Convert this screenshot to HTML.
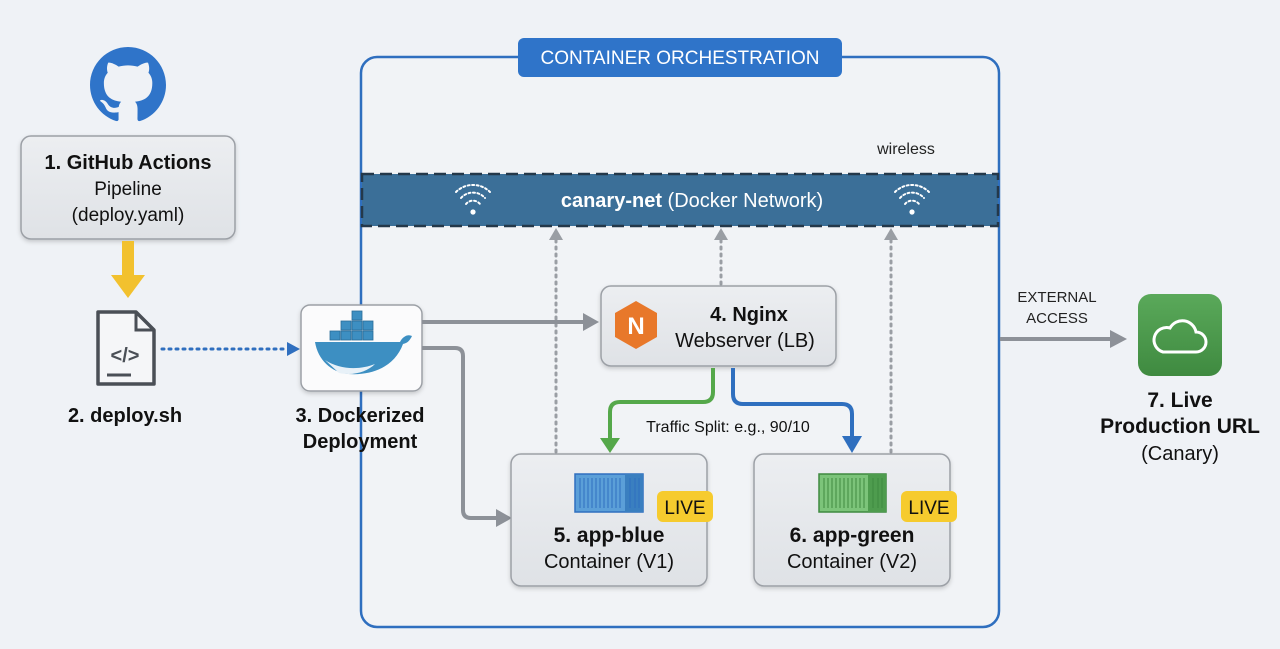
<!DOCTYPE html>
<html><head><meta charset="utf-8"><style>
html,body{margin:0;padding:0;background:#eff2f6;}
svg{display:block;font-family:"Liberation Sans",sans-serif;}
</style></head><body>
<svg width="1280" height="649" viewBox="0 0 1280 649" xmlns="http://www.w3.org/2000/svg">
<defs>
<linearGradient id="bx" x1="0" y1="0" x2="0" y2="1"><stop offset="0" stop-color="#eceef1"/><stop offset="1" stop-color="#dfe2e6"/></linearGradient>
<linearGradient id="gr" x1="0" y1="0" x2="0" y2="1"><stop offset="0" stop-color="#5aa95a"/><stop offset="1" stop-color="#3f8a40"/></linearGradient>
<filter id="sh" x="-10%" y="-10%" width="120%" height="130%"><feDropShadow dx="0" dy="2" stdDeviation="2" flood-color="#000" flood-opacity="0.18"/></filter>
</defs>
<rect width="1280" height="649" fill="#eff2f6"/>

<!-- orchestration -->
<rect x="361" y="57" width="638" height="570" rx="16" fill="#f1f3f6" stroke="#2f6fbf" stroke-width="2.5"/>
<rect x="518" y="38" width="324" height="39" rx="6" fill="#2f74c9"/>
<text x="680" y="64" font-size="19" fill="#fff" text-anchor="middle">CONTAINER ORCHESTRATION</text>
<text x="906" y="154" font-size="16" fill="#222" text-anchor="middle">wireless</text>

<!-- network band -->
<rect x="362" y="174" width="636" height="52" fill="#3b6f98" stroke="#24384a" stroke-width="2.5" stroke-dasharray="12,6"/>
<text x="692" y="207" font-size="20" fill="#fff" text-anchor="middle"><tspan font-weight="bold">canary-net</tspan> (Docker Network)</text>
<g fill="none" stroke="#fff" stroke-width="2" stroke-dasharray="2,2.5" stroke-linecap="round">
<path d="M456 192 a24 24 0 0 1 34 0"/><path d="M461 198 a16 16 0 0 1 24 0"/><path d="M466 204 a9 9 0 0 1 14 0"/>
<path d="M895 192 a24 24 0 0 1 34 0"/><path d="M900 198 a16 16 0 0 1 24 0"/><path d="M905 204 a9 9 0 0 1 14 0"/>
</g>
<circle cx="473" cy="212" r="2.6" fill="#fff"/><circle cx="912" cy="212" r="2.6" fill="#fff"/>

<!-- dotted vertical -->
<g stroke="#9a9ea4" stroke-width="3" stroke-dasharray="2,5" stroke-linecap="round">
<line x1="556" y1="240" x2="556" y2="452"/><line x1="721" y1="240" x2="721" y2="284"/><line x1="891" y1="240" x2="891" y2="452"/>
</g>
<g fill="#9a9ea4"><path d="M549 240 L556 228 L563 240Z"/><path d="M714 240 L721 228 L728 240Z"/><path d="M884 240 L891 228 L898 240Z"/></g>

<!-- github -->
<g transform="translate(90,47) scale(4.75)">
<path fill="#2f74c9" d="M8 0C3.58 0 0 3.58 0 8c0 3.54 2.29 6.53 5.47 7.59.4.07.55-.17.55-.38 0-.19-.01-.82-.01-1.49-2.01.37-2.530-.49-2.69-.94-.09-.23-.48-.94-.82-1.13-.28-.15-.68-.52-.01-.53.63-.01 1.08.58 1.23.82.72 1.21 1.87.87 2.33.66.07-.52.28-.87.51-1.07-1.78-.2-3.640-.89-3.640-3.95 0-.87.31-1.59.82-2.15-.08-.2-.36-1.020.08-2.12 0 0 .67-.21 2.2.82.64-.18 1.32-.27 2-.27.68 0 1.36.09 2 .27 1.53-1.04 2.2-.82 2.2-.82.44 1.1.16 1.92.08 2.12.51.56.82 1.27.82 2.15 0 3.07-1.87 3.75-3.65 3.95.29.25.54.73.54 1.48 0 1.07-.01 1.93-.01 2.2 0 .21.15.46.55.38A8.013 8.013 0 0016 8c0-4.42-3.58-8-8-8z"/>
</g>
<!-- box 1 -->
<rect x="21" y="136" width="214" height="103" rx="10" fill="url(#bx)" stroke="#9ca0a6" stroke-width="1.5" filter="url(#sh)"/>
<text x="128" y="169" font-size="20" font-weight="bold" fill="#111" text-anchor="middle">1. GitHub Actions</text>
<text x="128" y="195" font-size="19" fill="#111" text-anchor="middle">Pipeline</text>
<text x="128" y="221" font-size="19" fill="#111" text-anchor="middle">(deploy.yaml)</text>
<!-- yellow arrow -->
<rect x="122" y="241" width="12" height="34" fill="#f2c12e"/>
<path d="M111 275 L145 275 L128 298Z" fill="#f2c12e"/>
<!-- file icon -->
<path d="M98 312 h38 l18 18 v54 h-56 Z" fill="#f5f6f8" stroke="#4a4f56" stroke-width="3.5" stroke-linejoin="round"/>
<path d="M136 312 v18 h18" fill="none" stroke="#4a4f56" stroke-width="3"/>
<text x="125" y="362" font-size="20" font-weight="bold" fill="#4a4f56" text-anchor="middle">&lt;/&gt;</text>
<line x1="107" y1="375" x2="131" y2="375" stroke="#4a4f56" stroke-width="3"/>
<text x="125" y="422" font-size="20" font-weight="bold" fill="#111" text-anchor="middle">2. deploy.sh</text>
<!-- dotted blue -->
<line x1="162" y1="349" x2="286" y2="349" stroke="#2f6fbf" stroke-width="3" stroke-dasharray="2,5" stroke-linecap="round"/>
<path d="M287 342 L300 349 L287 356Z" fill="#2f6fbf"/>

<!-- docker box -->
<rect x="301" y="305" width="121" height="86" rx="9" fill="#fbfbfc" stroke="#9ca0a6" stroke-width="1.5" filter="url(#sh)"/>
<g fill="#3d8fc2" stroke="#2a6c98" stroke-width="0.8">
<rect x="330" y="331" width="10" height="9"/><rect x="341" y="331" width="10" height="9"/><rect x="352" y="331" width="10" height="9"/><rect x="363" y="331" width="10" height="9"/>
<rect x="341" y="321" width="10" height="9"/><rect x="352" y="321" width="10" height="9"/><rect x="363" y="321" width="10" height="9"/>
<rect x="352" y="311" width="10" height="9"/>
</g>
<path d="M315 342 h85 c3-6 8-8 12-6 c-2 4-4 7-9 8 c-8 22 -30 32 -55 30 c-17-2 -30-14 -33-32Z" fill="#3d8fc2"/>
<path d="M325 360 c15 10 35 10 50 4 c-8 8-22 12-36 9Z" fill="#e8f1f8"/>
<text x="360" y="422" font-size="20" font-weight="bold" fill="#111" text-anchor="middle">3. Dockerized</text>
<text x="360" y="448" font-size="20" font-weight="bold" fill="#111" text-anchor="middle">Deployment</text>

<!-- grey arrows -->
<g fill="none" stroke="#8d9198" stroke-width="4">
<line x1="422" y1="322" x2="584" y2="322"/>
<path d="M422 348 H455 q8 0 8 8 V510 q0 8 8 8 H498"/>
</g>
<path d="M583 313 L599 322 L583 331Z" fill="#8d9198"/>
<path d="M496 509 L512 518 L496 527Z" fill="#8d9198"/>

<!-- nginx -->
<rect x="601" y="286" width="235" height="80" rx="10" fill="url(#bx)" stroke="#9ca0a6" stroke-width="1.5" filter="url(#sh)"/>
<path d="M636 301 L657 313 L657 337 L636 349 L615 337 L615 313Z" fill="#e8782a"/>
<text x="636" y="334" font-size="24" font-weight="bold" fill="#fff" text-anchor="middle">N</text>
<text x="749" y="321" font-size="20" font-weight="bold" fill="#111" text-anchor="middle">4. Nginx</text>
<text x="745" y="347" font-size="20" fill="#111" text-anchor="middle">Webserver (LB)</text>

<!-- green/blue arrows -->
<path d="M713 368 V392 q0 10 -10 10 H620 q-10 0 -10 10 V440" fill="none" stroke="#55a84a" stroke-width="4"/>
<path d="M600 438 L610 453 L620 438Z" fill="#55a84a"/>
<path d="M733 368 V394 q0 10 10 10 H842 q10 0 10 10 V438" fill="none" stroke="#2f6fbf" stroke-width="4"/>
<path d="M842 436 L852 453 L862 436Z" fill="#2f6fbf"/>
<text x="728" y="432" font-size="16" fill="#111" text-anchor="middle">Traffic Split: e.g., 90/10</text>

<!-- app-blue -->
<rect x="511" y="454" width="196" height="132" rx="10" fill="url(#bx)" stroke="#9ca0a6" stroke-width="1.5" filter="url(#sh)"/>
<rect x="575" y="474" width="68" height="38" fill="#5b9fd8" stroke="#2f6fbf" stroke-width="1.5"/>
<rect x="625" y="474" width="18" height="38" fill="#3a7fc0"/>
<g stroke="#2f6fbf" stroke-width="1"><path d="M580 478v30M584 478v30M588 478v30M592 478v30M596 478v30M600 478v30M604 478v30M608 478v30M612 478v30M616 478v30M620 478v30M630 478v30M635 478v30M639 478v30"/></g>
<rect x="657" y="491" width="56" height="31" rx="6" fill="#f6cb2e"/>
<text x="685" y="514" font-size="19" fill="#111" text-anchor="middle">LIVE</text>
<text x="609" y="542" font-size="21" font-weight="bold" fill="#111" text-anchor="middle">5. app-blue</text>
<text x="609" y="568" font-size="20" fill="#111" text-anchor="middle">Container (V1)</text>

<!-- app-green -->
<rect x="754" y="454" width="196" height="132" rx="10" fill="url(#bx)" stroke="#9ca0a6" stroke-width="1.5" filter="url(#sh)"/>
<rect x="819" y="474" width="67" height="38" fill="#7cc47a" stroke="#3f8a40" stroke-width="1.5"/>
<rect x="868" y="474" width="18" height="38" fill="#4e9c4e"/>
<g stroke="#3f8a40" stroke-width="1"><path d="M824 478v30M828 478v30M832 478v30M836 478v30M840 478v30M844 478v30M848 478v30M852 478v30M856 478v30M860 478v30M864 478v30M873 478v30M878 478v30M882 478v30"/></g>
<rect x="901" y="491" width="56" height="31" rx="6" fill="#f6cb2e"/>
<text x="929" y="514" font-size="19" fill="#111" text-anchor="middle">LIVE</text>
<text x="852" y="542" font-size="21" font-weight="bold" fill="#111" text-anchor="middle">6. app-green</text>
<text x="852" y="568" font-size="20" fill="#111" text-anchor="middle">Container (V2)</text>

<!-- external -->
<line x1="1000" y1="339" x2="1112" y2="339" stroke="#8d9198" stroke-width="4"/>
<path d="M1110 330 L1127 339 L1110 348Z" fill="#8d9198"/>
<text x="1057" y="302" font-size="15" fill="#222" text-anchor="middle">EXTERNAL</text>
<text x="1057" y="323" font-size="15" fill="#222" text-anchor="middle">ACCESS</text>
<rect x="1138" y="294" width="84" height="82" rx="13" fill="url(#gr)"/>
<path d="M1163 352 h33 a10 10 0 0 0 0-20 a14 14 0 0 0 -26 -4 a10 10 0 0 0 -7 24Z" fill="none" stroke="#fff" stroke-width="3"/>
<text x="1180" y="407" font-size="21" font-weight="bold" fill="#111" text-anchor="middle">7. Live</text>
<text x="1180" y="433" font-size="21" font-weight="bold" fill="#111" text-anchor="middle">Production URL</text>
<text x="1180" y="460" font-size="20" fill="#111" text-anchor="middle">(Canary)</text>
</svg>
</body></html>
